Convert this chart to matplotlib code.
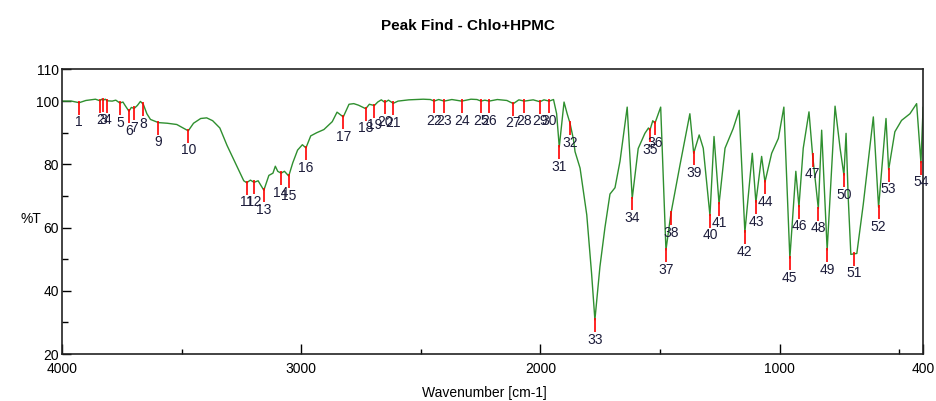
import matplotlib
matplotlib.use("Agg")
import matplotlib.pyplot as plt

plt.rcParams['font.family'] = ['Liberation Sans', 'DejaVu Sans']

# spectrum trace (wavenumber, %T)
wn = [4000, 3960, 3928, 3900, 3860, 3841, 3834, 3827, 3819, 3811, 3790, 3775, 3758,
      3745, 3735, 3720, 3710, 3698, 3685, 3672, 3660, 3645, 3630, 3597, 3560, 3520,
      3472, 3450, 3420, 3395, 3370, 3340, 3310, 3285, 3260, 3240, 3228, 3212, 3197,
      3180, 3156, 3135, 3118, 3108, 3098, 3084, 3070, 3052, 3035, 3015, 2995, 2980,
      2960, 2935, 2905, 2870, 2850, 2824, 2800, 2780, 2760, 2730, 2715, 2694, 2680,
      2665, 2650, 2635, 2615, 2595, 2550, 2490, 2460, 2444, 2425, 2402, 2370, 2329,
      2290, 2265, 2248, 2232, 2214, 2180, 2140, 2113, 2090, 2067, 2030, 2002, 1985,
      1963, 1945, 1932, 1921, 1901, 1888, 1876, 1862, 1855, 1834, 1806, 1786, 1772,
      1751, 1730, 1709, 1688, 1667, 1637, 1616, 1591, 1563, 1548, 1542, 1530, 1521,
      1497, 1475, 1454, 1416, 1375, 1359, 1336, 1319, 1291, 1274, 1253, 1228, 1194,
      1169, 1145, 1114, 1099, 1075, 1061, 1033, 1005, 982, 957, 932, 919, 901, 877,
      862, 838, 824, 801, 768, 747, 731, 722, 713, 702, 689, 677, 650, 608, 586, 555,
      544, 518, 490, 455, 427, 409, 400]
trans = [100.0, 100.0, 99.5, 100.2, 100.6, 100.1, 100.6, 100.3, 100.6, 100.1, 100.0,
         100.3, 99.4, 99.7, 98.5, 96.8, 98.0, 97.7, 98.6, 99.9, 99.0, 96.0, 94.2, 93.2,
         93.0, 92.6, 90.6, 93.0, 94.5, 94.7, 93.8, 91.5, 86.0, 82.0, 78.0, 74.8, 74.2,
         75.0, 74.3, 74.8, 71.8, 76.5, 77.2, 79.4, 77.8, 77.2, 77.8, 76.3, 80.5, 84.5,
         86.2, 85.2, 89.0, 90.0, 91.0, 93.5, 96.5, 95.0, 99.0, 99.2, 98.7, 97.6, 99.0,
         98.6, 99.7, 100.4, 99.6, 100.3, 99.3, 100.0, 100.4, 100.6, 100.5, 100.0, 100.5,
         100.0, 100.5, 100.0, 100.6, 100.5, 100.0, 100.3, 100.0, 100.5, 100.2, 99.2,
         100.4, 100.0, 100.4, 99.8, 100.4, 100.0, 100.5, 96.0, 85.5, 99.7, 96.0, 93.0,
         88.0, 84.0, 78.8, 64.0, 45.6, 30.8, 47.6, 60.0, 70.6, 72.6, 81.0, 98.1, 69.2,
         85.0, 89.8, 91.5, 90.8, 93.8, 93.0, 98.1, 52.9, 64.5, 79.9, 96.0, 83.5, 89.3,
         85.1, 63.8, 88.8, 67.5, 85.1, 91.3, 97.1, 58.5, 83.5, 68.0, 82.5, 74.4, 83.5,
         88.2, 98.1, 50.3, 77.8, 66.6, 85.1, 96.6, 83.0, 66.0, 90.8, 52.9, 98.4, 85.1,
         76.6, 89.8, 69.5, 51.5, 51.7, 51.8, 67.4, 95.0, 66.4, 94.5, 78.3, 90.3, 93.9,
         96.0, 99.2, 80.5, 98.0]

# picked peaks
peak_wn = [3928, 3841, 3827, 3811, 3758, 3720, 3698, 3660, 3597, 3472,
           3228, 3197, 3156, 3084, 3052, 2980, 2824, 2730, 2694, 2650,
           2615, 2444, 2402, 2329, 2248, 2214, 2113, 2067, 2002, 1963,
           1921, 1876, 1772, 1616, 1542, 1521, 1475, 1454, 1359, 1291,
           1253, 1145, 1099, 1061, 957, 919, 862, 838, 801, 731,
           689, 586, 544, 409]
peak_t = [99.5, 100.1, 100.3, 100.1, 99.4, 96.8, 97.7, 99.0, 93.2, 90.6,
          74.2, 74.3, 71.8, 77.2, 76.3, 85.2, 95.0, 97.6, 98.6, 99.6,
          99.3, 100.0, 100.0, 100.0, 100.0, 100.0, 99.2, 100.0, 99.8, 100.0,
          85.5, 93.0, 30.8, 69.2, 90.8, 93.0, 52.9, 64.5, 83.5, 63.8,
          67.5, 58.5, 68.0, 74.4, 50.3, 66.6, 83.0, 66.0, 52.9, 76.6,
          51.7, 66.4, 78.3, 80.5]
peak_labels = [str(i + 1) for i in range(len(peak_wn))]

fig = plt.figure(figsize=(9.36, 4.01), dpi=100)
ax = fig.add_axes([0.0662, 0.1172, 0.9200, 0.7095])

ax.plot(wn, trans, color="#2f8f2f", lw=1.0)

for x, t, lab in zip(peak_wn, peak_t, peak_labels):
    ax.plot([x, x], [t + 0.6, t - 3.8], color="red", lw=1.2, solid_capstyle="butt")
    ax.text(x, t - 4.0, lab, ha="center", va="top", fontsize=10, color="#1c1c3a")

ax.set_xlim(4000, 400)
ax.set_ylim(20, 110)
ax.set_xticks([4000, 3000, 2000, 1000, 400])
ax.set_xticks([3500, 2500, 1500, 500], minor=True)
ax.set_yticks([20, 40, 60, 80, 100, 110])
ax.set_yticks([30, 50, 70, 90], minor=True)
ax.tick_params(axis="x", which="major", direction="in", length=7.2, width=1, labelsize=10, pad=6)
ax.tick_params(axis="x", which="minor", direction="in", length=3.3, width=1)
ax.tick_params(axis="y", which="major", direction="in", length=6.5, width=1, labelsize=10, pad=2)
ax.tick_params(axis="y", which="minor", direction="in", length=4.3, width=1)
for s in ax.spines.values():
    s.set_linewidth(1.2)
    s.set_color("#222222")

fig.text(0.5, 0.935, "Peak Find - Chlo+HPMC", ha="center", va="center",
         fontsize=11, fontweight="bold")
fig.text(0.022, 0.455, "%T", ha="left", va="center", fontsize=10)
fig.text(0.518, 0.02, "Wavenumber [cm-1]", ha="center", va="center", fontsize=10)

fig.savefig("out.png", dpi=100)
